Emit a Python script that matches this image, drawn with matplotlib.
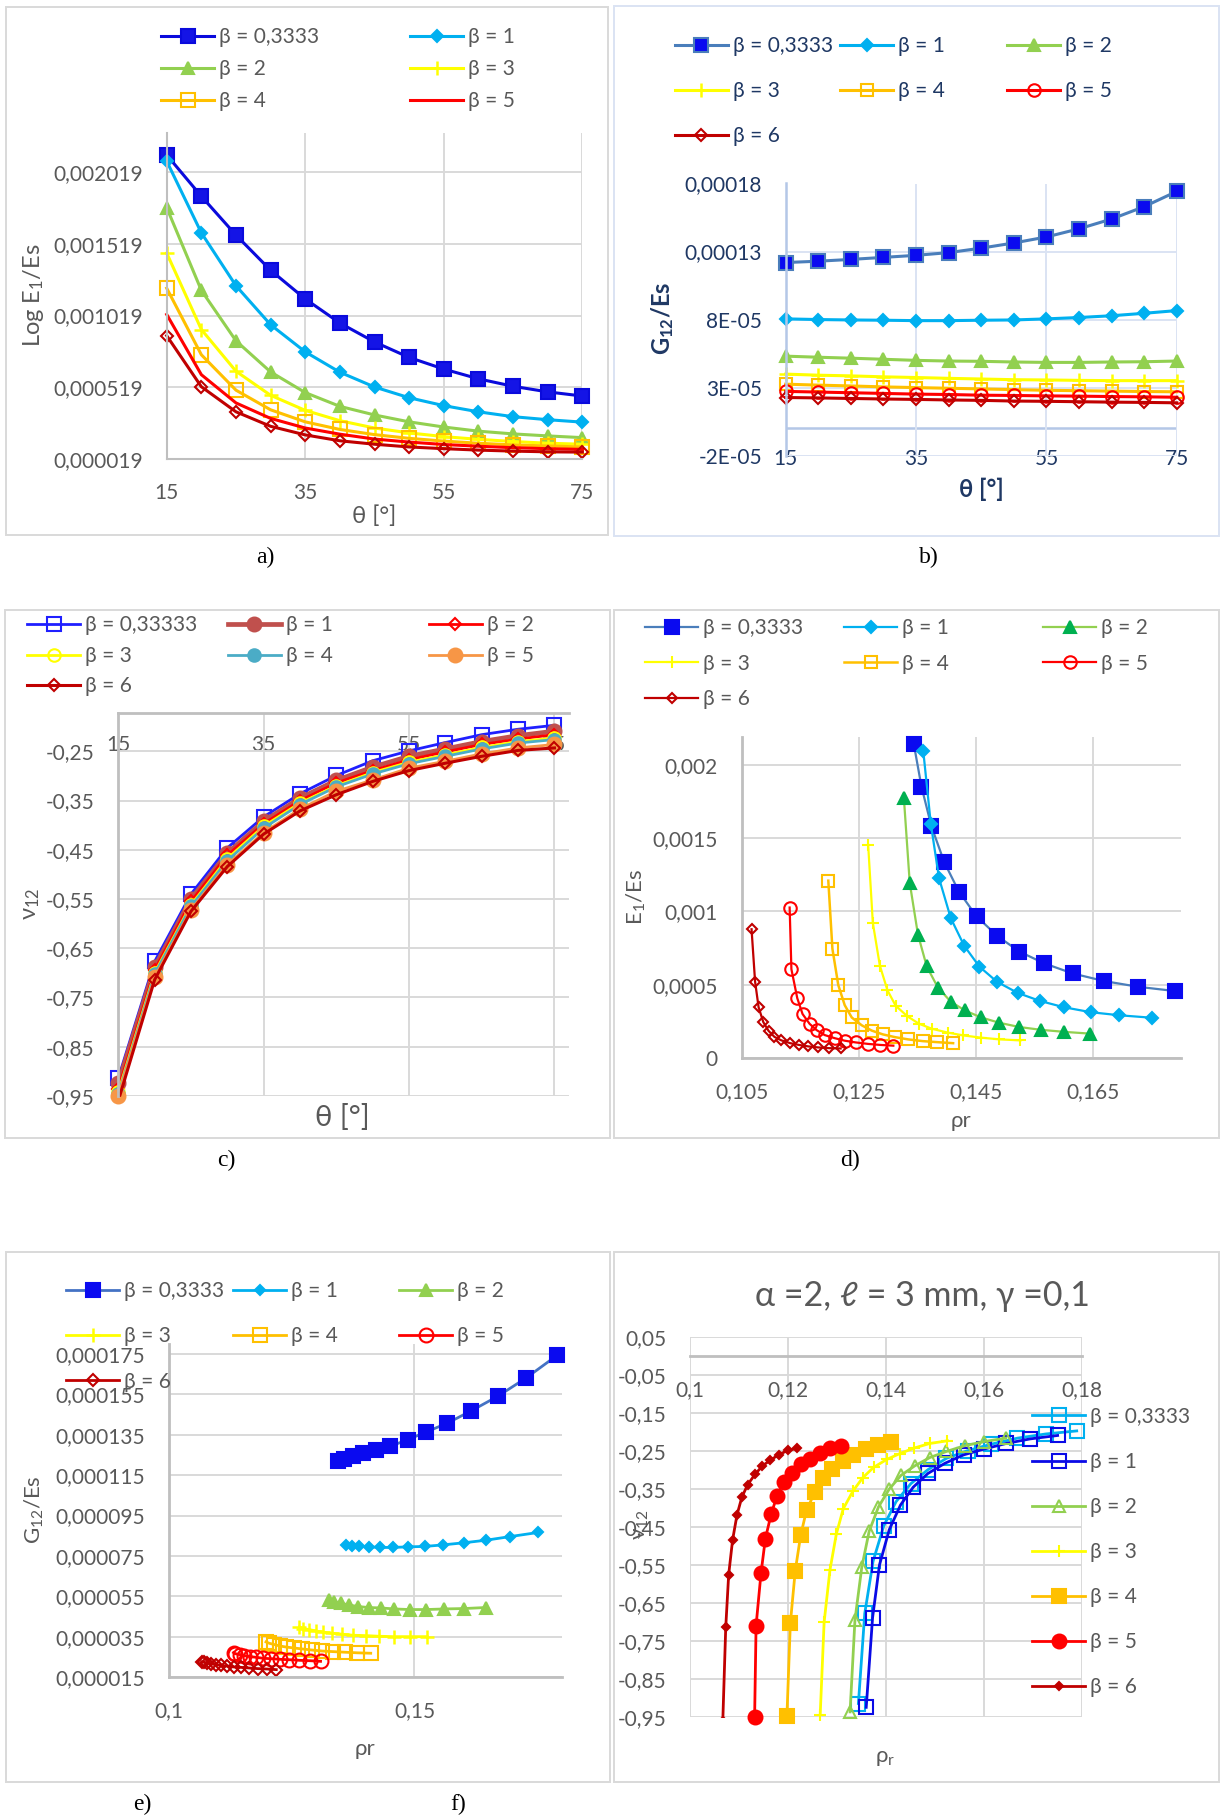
import matplotlib
matplotlib.use('Agg')
import matplotlib.pyplot as plt
from matplotlib.legend import Legend
from matplotlib.patches import Rectangle

plt.rcParams['font.family'] = ['Lato', 'DejaVu Sans']
plt.rcParams['mathtext.fontset'] = 'custom'
plt.rcParams['mathtext.rm'] = 'Lato'
plt.rcParams['mathtext.it'] = 'Lato:italic'
plt.rcParams['mathtext.bf'] = 'Lato:bold'

# ---------------------------------------------------------------- data
theta = [15, 20, 25, 30, 35, 40, 45, 50, 55, 60, 65, 70, 75]
betas = ['0,3333', '1', '2', '3', '4', '5', '6']

# rows: beta = 0.3333, 1, 2, 3, 4, 5, 6
e1_es = [
    [0.002139, 0.001851, 0.001580, 0.001335, 0.001135, 0.000967, 0.000835, 0.000727, 0.000646, 0.000578, 0.000526, 0.000487, 0.000458],
    [0.002096, 0.001596, 0.001227, 0.000955, 0.000766, 0.000624, 0.000521, 0.000446, 0.000391, 0.000348, 0.000314, 0.000293, 0.000276],
    [0.001772, 0.001195, 0.000843, 0.000626, 0.000482, 0.000386, 0.000326, 0.000278, 0.000242, 0.000213, 0.000194, 0.000180, 0.000168],
    [0.001455, 0.000922, 0.000631, 0.000463, 0.000358, 0.000286, 0.000235, 0.000201, 0.000175, 0.000156, 0.000141, 0.000129, 0.000122],
    [0.001210, 0.000746, 0.000499, 0.000362, 0.000278, 0.000225, 0.000189, 0.000163, 0.000144, 0.000129, 0.000117, 0.000110, 0.000103],
    [0.001027, 0.000607, 0.000410, 0.000302, 0.000235, 0.000192, 0.000158, 0.000137, 0.000120, 0.000108, 0.000098, 0.000091, 0.000086],
    [0.000879, 0.000523, 0.000348, 0.000247, 0.000187, 0.000146, 0.000122, 0.000103, 0.000091, 0.000081, 0.000074, 0.000069, 0.000067],
]
g12_es = [
    [1.219e-4, 1.229e-4, 1.242e-4, 1.257e-4, 1.272e-4, 1.292e-4, 1.325e-4, 1.363e-4, 1.407e-4, 1.467e-4, 1.539e-4, 1.630e-4, 1.742e-4],
    [8.05e-5, 8.00e-5, 7.97e-5, 7.95e-5, 7.92e-5, 7.92e-5, 7.95e-5, 7.97e-5, 8.05e-5, 8.15e-5, 8.28e-5, 8.46e-5, 8.66e-5],
    [5.31e-5, 5.23e-5, 5.16e-5, 5.08e-5, 5.00e-5, 4.95e-5, 4.93e-5, 4.88e-5, 4.85e-5, 4.85e-5, 4.88e-5, 4.90e-5, 4.95e-5],
    [3.99e-5, 3.91e-5, 3.86e-5, 3.79e-5, 3.74e-5, 3.68e-5, 3.63e-5, 3.58e-5, 3.56e-5, 3.53e-5, 3.51e-5, 3.51e-5, 3.51e-5],
    [3.25e-5, 3.18e-5, 3.12e-5, 3.05e-5, 3.00e-5, 2.95e-5, 2.90e-5, 2.85e-5, 2.80e-5, 2.77e-5, 2.74e-5, 2.71e-5, 2.69e-5],
    [2.72e-5, 2.67e-5, 2.62e-5, 2.57e-5, 2.52e-5, 2.49e-5, 2.44e-5, 2.42e-5, 2.39e-5, 2.37e-5, 2.34e-5, 2.32e-5, 2.29e-5],
    [2.27e-5, 2.24e-5, 2.20e-5, 2.16e-5, 2.13e-5, 2.09e-5, 2.06e-5, 2.01e-5, 1.99e-5, 1.96e-5, 1.93e-5, 1.91e-5, 1.88e-5],
]
nu12 = [
    [-0.914, -0.677, -0.540, -0.446, -0.383, -0.336, -0.299, -0.269, -0.249, -0.232, -0.216, -0.205, -0.197],
    [-0.924, -0.688, -0.550, -0.457, -0.392, -0.345, -0.309, -0.282, -0.260, -0.245, -0.230, -0.218, -0.209],
    [-0.936, -0.694, -0.555, -0.461, -0.397, -0.350, -0.314, -0.289, -0.267, -0.251, -0.236, -0.225, -0.216],
    [-0.943, -0.700, -0.562, -0.468, -0.402, -0.355, -0.320, -0.293, -0.272, -0.257, -0.242, -0.230, -0.223],
    [-0.947, -0.703, -0.565, -0.472, -0.406, -0.358, -0.322, -0.296, -0.275, -0.260, -0.245, -0.233, -0.226],
    [-0.950, -0.709, -0.572, -0.480, -0.415, -0.367, -0.331, -0.308, -0.284, -0.270, -0.255, -0.243, -0.236],
    [-0.960, -0.714, -0.575, -0.484, -0.418, -0.371, -0.338, -0.311, -0.289, -0.274, -0.260, -0.248, -0.243],
]
rho_r = [
    [0.1344, 0.1357, 0.1374, 0.1396, 0.1421, 0.1451, 0.1486, 0.1524, 0.1567, 0.1615, 0.1669, 0.1727, 0.1790],
    [0.1360, 0.1373, 0.1387, 0.1407, 0.1430, 0.1456, 0.1486, 0.1521, 0.1559, 0.1600, 0.1646, 0.1695, 0.1751],
    [0.1327, 0.1337, 0.1351, 0.1366, 0.1385, 0.1407, 0.1431, 0.1459, 0.1490, 0.1524, 0.1561, 0.1601, 0.1645],
    [0.1266, 0.1274, 0.1286, 0.1299, 0.1313, 0.1333, 0.1353, 0.1375, 0.1402, 0.1428, 0.1458, 0.1490, 0.1526],
    [0.1198, 0.1205, 0.1215, 0.1226, 0.1238, 0.1255, 0.1272, 0.1291, 0.1312, 0.1334, 0.1359, 0.1384, 0.1411],
    [0.1132, 0.1135, 0.1145, 0.1154, 0.1166, 0.1178, 0.1192, 0.1209, 0.1226, 0.1245, 0.1266, 0.1287, 0.1309],
    [0.1067, 0.1073, 0.1079, 0.1087, 0.1096, 0.1106, 0.1118, 0.1133, 0.1148, 0.1164, 0.1181, 0.1200, 0.1219],
]

theta_ticks = [15, 35, 55, 75]
a_yticks = [0.000019, 0.000519, 0.001019, 0.001519, 0.002019]
a_ylabels = ['0,000019', '0,000519', '0,001019', '0,001519', '0,002019']
b_yticks = [-2e-5, 3e-5, 8e-5, 1.3e-4, 1.8e-4]
b_ylabels = ['-2E-05', '3E-05', '8E-05', '0,00013', '0,00018']
c_yticks = [-0.95, -0.85, -0.75, -0.65, -0.55, -0.45, -0.35, -0.25]
c_ylabels = ['-0,95', '-0,85', '-0,75', '-0,65', '-0,55', '-0,45', '-0,35', '-0,25']
d_xticks = [0.105, 0.125, 0.145, 0.165]
d_xlabels = ['0,105', '0,125', '0,145', '0,165']
d_yticks = [0, 0.0005, 0.001, 0.0015, 0.002]
d_ylabels = ['0', '0,0005', '0,001', '0,0015', '0,002']
e_xticks = [0.1, 0.15]
e_xlabels = ['0,1', '0,15']
e_yticks = [0.000015, 0.000035, 0.000055, 0.000075, 0.000095, 0.000115, 0.000135, 0.000155, 0.000175]
e_ylabels = ['0,000015', '0,000035', '0,000055', '0,000075', '0,000095',
             '0,000115', '0,000135', '0,000155', '0,000175']
f_xticks = [0.1, 0.12, 0.14, 0.16, 0.18]
f_xlabels = ['0,1', '0,12', '0,14', '0,16', '0,18']
f_yticks = [0.05, -0.05, -0.15, -0.25, -0.35, -0.45, -0.55, -0.65, -0.75, -0.85, -0.95]
f_ylabels = ['0,05', '-0,05', '-0,15', '-0,25', '-0,35', '-0,45', '-0,55',
             '-0,65', '-0,75', '-0,85', '-0,95']

# ---------------------------------------------------------------- styles
GRAY = '#595959'
NAVY = '#1F3864'
GRID = '#D9D9D9'
AXIS = '#BFBFBF'
FS = 15

def st(color, marker=None, ms=9, mfc=None, mec=None, mew=1.5, lw=2.2):
    return dict(color=color, marker=marker, ms=ms, mfc=mfc or color,
                mec=mec or color, mew=mew, lw=lw)

sty_a = [st('#0A0ADC', 's', 10.5, '#1414E6'), st('#00B0F0', 'D', 6.5),
         st('#92D050', '^', 9), st('#FFFF00', '+', 10, mew=1.8),
         st('#FFC000', 's', 10, 'none'), st('#FF0000'),
         st('#C00000', 'D', 6.5, 'none')]
sty_b = [st('#4A7EBB', 's', 10, '#0A0AF0'), st('#00B0F0', 'D', 6.5),
         st('#92D050', '^', 9), st('#FFFF00', '+', 10, mew=1.8),
         st('#FFC000', 's', 9, 'none'), st('#FF0000', 'o', 9, 'none'),
         st('#C00000', 'D', 6, 'none')]
sty_c = [st('#1F1FFF', 's', 10, 'none', lw=2), st('#C0504D', 'o', 10, lw=3.4),
         st('#FF0000', 'D', 6, 'none', lw=2), st('#FFFF00', 'o', 9, 'none', lw=2),
         st('#4BACC6', 'o', 9, lw=2), st('#F79646', 'o', 10, lw=2),
         st('#C00000', 'D', 6.5, 'none', lw=2.2)]
sty_d = [st('#4A7EBB', 's', 9.5, '#0A0AF0', '#0A0AF0', lw=1.6), st('#00B0F0', 'D', 6, lw=1.6),
         st('#92D050', '^', 8.5, '#00B050', '#00B050', lw=1.6), st('#FFFF00', '+', 9, lw=1.6),
         st('#FFC000', 's', 9, 'none', lw=1.8), st('#FF0000', 'o', 9, 'none', lw=1.6),
         st('#C00000', 'D', 5.5, 'none', lw=1.6)]
sty_e = [st('#4472C4', 's', 10, '#0A0AF0', '#0A0AF0', lw=2), st('#00B0F0', 'D', 5.5, lw=2),
         st('#92D050', '^', 9, lw=2), st('#FFFF00', '+', 10, mew=1.8, lw=2),
         st('#FFC000', 's', 10, 'none', lw=2), st('#FF0000', 'o', 10, 'none', lw=2),
         st('#C00000', 'D', 6, 'none', lw=2)]
sty_f = [st('#00B0F0', 's', 10, 'none', lw=2), st('#0A0AE6', 's', 10, 'none', lw=2),
         st('#92D050', '^', 9, 'none', lw=2), st('#FFFF00', '+', 9, lw=2),
         st('#FFC000', 's', 10, lw=2), st('#FF0000', 'o', 10, lw=2),
         st('#C00000', 'D', 4.5, lw=2)]

# ---------------------------------------------------------------- layout helpers
W, H = 1224, 1820
fig = plt.figure(figsize=(W / 100, H / 100), dpi=100)


def frame(r):
    l, t, rr, b = r
    return [l / W, 1 - b / H, (rr - l) / W, (b - t) / H]


def axc(r, px, py):
    l, t, rr, b = r
    return (px - l) / (rr - l), (b - py) / (b - t)


def box(l, t, r, b, color):
    fig.add_artist(Rectangle((l / W, 1 - b / H), (r - l) / W, (b - t) / H,
                             transform=fig.transFigure, fill=False, ec=color, lw=1.4))


def legend_rows(handles, labels, ncol, xs, y1, pitch, color, fs=FS, hl=2.55, hpad=0.25):
    # entries run along the rows, one Legend per column keeps the columns evenly spaced
    fpx = fs * 100 / 72
    h = 0.96 * fpx
    for c in range(ncol):
        leg = Legend(fig, handles[c::ncol], labels[c::ncol], loc='upper left',
                     bbox_to_anchor=(xs[c] / W, 1 - (y1 - h / 2 + 1) / H),
                     bbox_transform=fig.transFigure, frameon=False, fontsize=fs,
                     handlelength=hl, handletextpad=hpad, labelspacing=(pitch - h) / fpx,
                     borderpad=0, borderaxespad=0, numpoints=1, labelcolor=color)
        fig.add_artist(leg)


def draw(ax, xs, ys, styles, unclipped=range(7)):
    out = []
    for i, (x, y, s) in enumerate(zip(xs, ys, styles)):
        ln, = ax.plot(x, y, clip_on=(i not in unclipped), **s)
        out.append(ln)
    return out


def base(ax, color=GRAY, grid=GRID, pad=17):
    ax.set_facecolor('none')
    ax.tick_params(length=0, pad=pad, labelsize=FS, colors=color)
    ax.grid(True, color=grid, lw=1.4)
    ax.set_axisbelow(True)
    for s in ax.spines.values():
        s.set_visible(False)


def caption(x, y, s):
    fig.text(x / W, 1 - y / H, s, ha='center', va='center', fontsize=17,
             family='Liberation Serif')


# ---------------------------------------------------------------- a) E1/Es vs theta
box(6, 7, 608, 535, GRID)
ra = (166.7, 132.6, 582.4, 459)
ax = fig.add_axes(frame(ra))
base(ax)
lines = draw(ax, [theta] * 7, e1_es, sty_a)
ax.set_xlim(15, 75)
ax.set_ylim(0.000019, 0.002295)
ax.set_xticks(theta_ticks, [str(t) for t in theta_ticks])
ax.set_yticks(a_yticks, a_ylabels)
for s in ('left', 'bottom'):
    ax.spines[s].set_visible(True)
    ax.spines[s].set_color(AXIS)
    ax.spines[s].set_linewidth(1.5)
ax.set_xlabel('θ [°]', fontsize=17, color=GRAY, va='center')
ax.xaxis.set_label_coords(*axc(ra, 374, 516.5))
ax.set_ylabel(r'Log E$_{\mathregular{1}}$/Es', fontsize=17, color=GRAY, va='center')
ax.yaxis.set_label_coords(*axc(ra, 34, 295))
legend_rows(lines[:6], ['β = ' + b for b in betas[:6]], 2, [161, 410], 36.2, 32, GRAY)
caption(265, 557, 'a)')

# ---------------------------------------------------------------- b) G12/Es vs theta
box(614, 6, 1219, 535.5, '#DAE3F3')
rb = (785.7, 183.5, 1176.8, 455.6)
ax = fig.add_axes(frame(rb))
base(ax, NAVY, '#DAE3F3', pad=17)
ax.tick_params(axis='x', pad=-5)
lines = draw(ax, [theta] * 7, g12_es, sty_b)
ax.set_xlim(15, 75)
ax.set_ylim(-2e-5, 1.8e-4)
ax.set_xticks(theta_ticks, [str(t) for t in theta_ticks])
ax.set_yticks(b_yticks, b_ylabels)
ax.axhline(0, color='#B4C7E7', lw=1.8, zorder=0.5)
ax.spines['left'].set_visible(True)
ax.spines['left'].set_color('#B4C7E7')
ax.spines['left'].set_linewidth(1.8)
ax.set_xlabel('θ [°]', fontsize=17, color=NAVY, fontweight='bold', va='center')
ax.xaxis.set_label_coords(*axc(rb, 981, 489))
ax.set_ylabel(r'$\mathbf{G_{12}/Es}$', fontsize=17, color=NAVY, va='center')
ax.yaxis.set_label_coords(*axc(rb, 662.7, 318.5))
legend_rows(lines, ['β = ' + b for b in betas], 3, [674.5, 840, 1007], 44.8, 45.3, NAVY)
caption(929, 557, 'b)')

# ---------------------------------------------------------------- c) nu12 vs theta
box(5, 610, 609.7, 1138, GRID)
rc = (118.3, 713, 569, 1095.8)
ax = fig.add_axes(frame(rc))
base(ax)
lines = draw(ax, [theta] * 7, nu12, sty_c, unclipped=range(6))
ax.set_xlim(15, 77)
ax.set_ylim(-0.95, -0.172)
ax.xaxis.tick_top()
ax.tick_params(axis='x', pad=-30)
ax.set_xticks(theta_ticks, [str(t) for t in theta_ticks])
ax.set_yticks(c_yticks, c_ylabels)
for s in ('left', 'top'):
    ax.spines[s].set_visible(True)
    ax.spines[s].set_color(AXIS)
    ax.spines[s].set_linewidth(2)
ax.set_xlabel('θ [°]', fontsize=21, color=GRAY, va='center')
ax.xaxis.set_label_coords(*axc(rc, 342.7, 1117))
ax.set_ylabel(r'ν$_{\mathregular{12}}$', fontsize=17, color=GRAY, va='center')
ax.yaxis.set_label_coords(*axc(rc, 31, 904))
legend_rows(lines, ['β = 0,33333'] + ['β = ' + b for b in betas[1:]], 3,
            [27, 227.5, 428.6], 624.3, 30.6, GRAY)
caption(226, 1160, 'c)')

# ---------------------------------------------------------------- d) E1/Es vs rho_r
box(614, 610, 1219, 1138, GRID)
rd = (741.6, 736.8, 1181, 1058.3)
ax = fig.add_axes(frame(rd))
base(ax)
lines = draw(ax, rho_r, e1_es, sty_d)
ax.set_xlim(0.105, 0.18)
ax.set_ylim(0, 0.00219)
ax.set_xticks(d_xticks, d_xlabels)
ax.set_yticks(d_yticks, d_ylabels)
for s in ('left', 'bottom'):
    ax.spines[s].set_visible(True)
    ax.spines[s].set_color(AXIS)
    ax.spines[s].set_linewidth(2)
ax.set_xlabel('ρr', fontsize=16, color=GRAY, va='center')
ax.xaxis.set_label_coords(*axc(rd, 960.5, 1120.6))
ax.set_ylabel(r'E$_{\mathregular{1}}$/Es', fontsize=16, color=GRAY, va='center')
ax.yaxis.set_label_coords(*axc(rd, 636, 897))
legend_rows(lines, ['β = ' + b for b in betas], 3, [645, 844, 1043], 627, 35.7, GRAY)
caption(850, 1160, 'd)')

# ---------------------------------------------------------------- e) G12/Es vs rho_r
box(6, 1252, 609.7, 1782, GRID)
re = (168.6, 1343.6, 562, 1677.3)
ax = fig.add_axes(frame(re))
base(ax)
lines = draw(ax, rho_r, g12_es, sty_e)
ax.set_xlim(0.1, 0.18)
ax.set_ylim(0.000015, 0.00018)
ax.set_xticks(e_xticks, e_xlabels)
ax.set_yticks(e_yticks, e_ylabels)
for s in ('left', 'bottom'):
    ax.spines[s].set_visible(True)
    ax.spines[s].set_color(AXIS)
    ax.spines[s].set_linewidth(2)
ax.set_xlabel('ρr', fontsize=16, color=GRAY, va='center')
ax.xaxis.set_label_coords(*axc(re, 365, 1748.7))
ax.set_ylabel(r'G$_{\mathregular{12}}$/Es', fontsize=16, color=GRAY, va='center')
ax.yaxis.set_label_coords(*axc(re, 34, 1510))
legend_rows(lines, ['β = ' + b for b in betas], 3, [66, 233, 399], 1290, 45.3, GRAY)
caption(142.5, 1804, 'e)')
caption(458.6, 1804, 'f)')

# ---------------------------------------------------------------- f) nu12 vs rho_r
box(614, 1252, 1219, 1782, GRID)
rf = (690, 1337, 1081.6, 1717.2)
ax = fig.add_axes(frame(rf))
base(ax)
lines = draw(ax, rho_r, nu12, sty_f, unclipped=range(6))
ax.set_xlim(0.1, 0.18)
ax.set_ylim(-0.95, 0.05)
ax.set_xticks(f_xticks, f_xlabels)
ax.set_yticks(f_yticks, f_ylabels)
ax.spines['bottom'].set_visible(True)
ax.spines['bottom'].set_position(('data', 0))
ax.spines['bottom'].set_color(AXIS)
ax.spines['bottom'].set_linewidth(2)
ax.set_title('α =2, ℓ = 3 mm, γ =0,1', fontsize=24.5, color=GRAY, va='center',
             y=axc(rf, 0, 1304)[1], x=axc(rf, 922, 0)[0])
ax.set_xlabel(r'ρ$_{\mathregular{r}}$', fontsize=16, color=GRAY, va='center')
ax.xaxis.set_label_coords(*axc(rf, 885, 1758))
ax.set_ylabel(r'ν$_{\mathregular{12}}$', fontsize=16, color=GRAY, va='center')
ax.yaxis.set_label_coords(*axc(rf, 641, 1525))
legend_rows(lines, ['β = ' + b for b in betas], 1, [1032], 1415.7, 45.1, GRAY)

fig.savefig('out.png', dpi=100)
